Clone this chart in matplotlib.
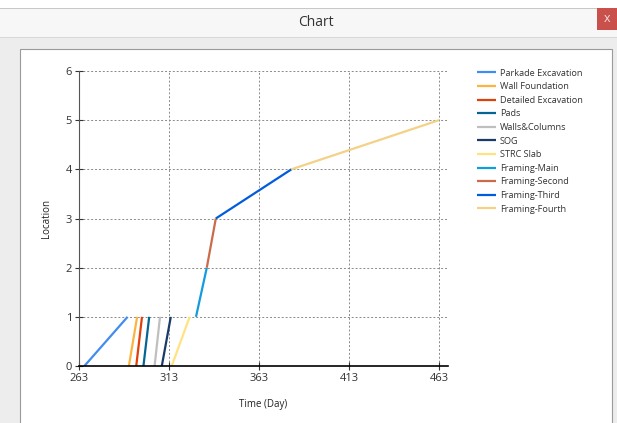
import matplotlib
matplotlib.use("Agg")
import matplotlib.pyplot as plt
from matplotlib.patches import Rectangle

W, H = 617, 423

series = ["Parkade Excavation", "Wall Foundation", "Detailed Excavation", "Pads",
          "Walls&Columns", "SOG", "STRC Slab", "Framing-Main", "Framing-Second",
          "Framing-Third", "Framing-Fourth"]
x_start = [266, 290.7, 294.8, 298.8, 305, 309, 314.5, 328, 334, 339, 381]
x_end   = [290, 295.3, 298, 302, 308, 314, 324.5, 334, 339, 381, 463]
y_start = [0, 0, 0, 0, 0, 0, 0, 1, 2, 3, 4]
y_end   = [1, 1, 1, 1, 1, 1, 1, 2, 3, 4, 5]
colors = ["#418CF0", "#FCB441", "#E0400A", "#056492", "#BFBFBF", "#1A3B69",
          "#FFE382", "#129CDD", "#CA6B4B", "#005CDB", "#F3D288"]
x_ticks = [263, 313, 363, 413, 463]
y_ticks = [0, 1, 2, 3, 4, 5, 6]

plt.rcParams['font.family'] = ['Open Sans', 'DejaVu Sans']

fig = plt.figure(figsize=(W / 100, H / 100), dpi=100)
fig.patch.set_facecolor("#F0F0F0")

def px(x, y, w, h):
    return (x / W, 1 - (y + h) / H), w / W, h / H

def rect(x, y, w, h, fc, ec="none", lw=0, z=0):
    xy, ww, hh = px(x, y, w, h)
    fig.add_artist(Rectangle(xy, ww, hh, transform=fig.transFigure, facecolor=fc,
                             edgecolor=ec, linewidth=lw, zorder=z))

# window chrome
rect(0, 0, W, 8, "#FFFFFF")
rect(0, 8, W, 29, "#F7F7F7")
rect(0, 8, W, 0.8, "#C8C8C8", z=1)
rect(0, 37, W, 0.8, "#D8D8D8", z=1)
rect(0, 38, W, H - 38, "#EDEDED")
rect(20, 49, 592, H - 49 + 5, "#FFFFFF", ec="#9A9A9A", lw=0.8)
rect(597, 8, 20, 22, "#C9504B", z=2)
fig.text(607 / W, 1 - 19 / H, "x", color="#F4E0E0", fontsize=9, ha="center", va="center",
         zorder=3)
fig.text(316 / W, 1 - 22 / H, "Chart", color="#333333", fontsize=10, ha="center", va="center")

ax = fig.add_axes([79 / W, 1 - 366 / H, (448 - 79) / W, (366 - 71) / H])
ax.set_facecolor("none")

for name, xs, xe, ys, ye, c in zip(series, x_start, x_end, y_start, y_end, colors):
    ax.plot([xs, xe], [ys, ye], color=c, lw=1.6, label=name, solid_capstyle="butt",
            clip_on=False)

ax.set_xlim(263, 468)
ax.set_ylim(0, 6)
ax.set_xticks(x_ticks)
ax.set_yticks(y_ticks)
ax.grid(True, color="#8A8A8A", linestyle=(0, (2, 2)), linewidth=0.7)
for s in ["top", "right"]:
    ax.spines[s].set_visible(False)
ax.spines["left"].set_color("#555555")
ax.spines["bottom"].set_color("#000000")
ax.spines["bottom"].set_linewidth(1.2)
ax.tick_params(axis="both", labelsize=8, colors="#333333", direction="inout", length=6,
               width=0.8)
ax.tick_params(axis="x", pad=2)
ax.tick_params(axis="y", pad=2)
ax.set_xlabel("Time (Day)", fontsize=7, color="#222222", labelpad=11)
ax.set_ylabel("Location", fontsize=7, color="#222222", labelpad=10)

leg = ax.legend(loc="upper left", bbox_to_anchor=(473 / W, 1 - 65 / H),
                bbox_transform=fig.transFigure, frameon=False, fontsize=6.6,
                handlelength=2.1, handletextpad=0.45, labelspacing=0.5,
                borderaxespad=0)
for t in leg.get_texts():
    t.set_color("#333333")

fig.savefig("out.png", dpi=100, facecolor=fig.get_facecolor())
